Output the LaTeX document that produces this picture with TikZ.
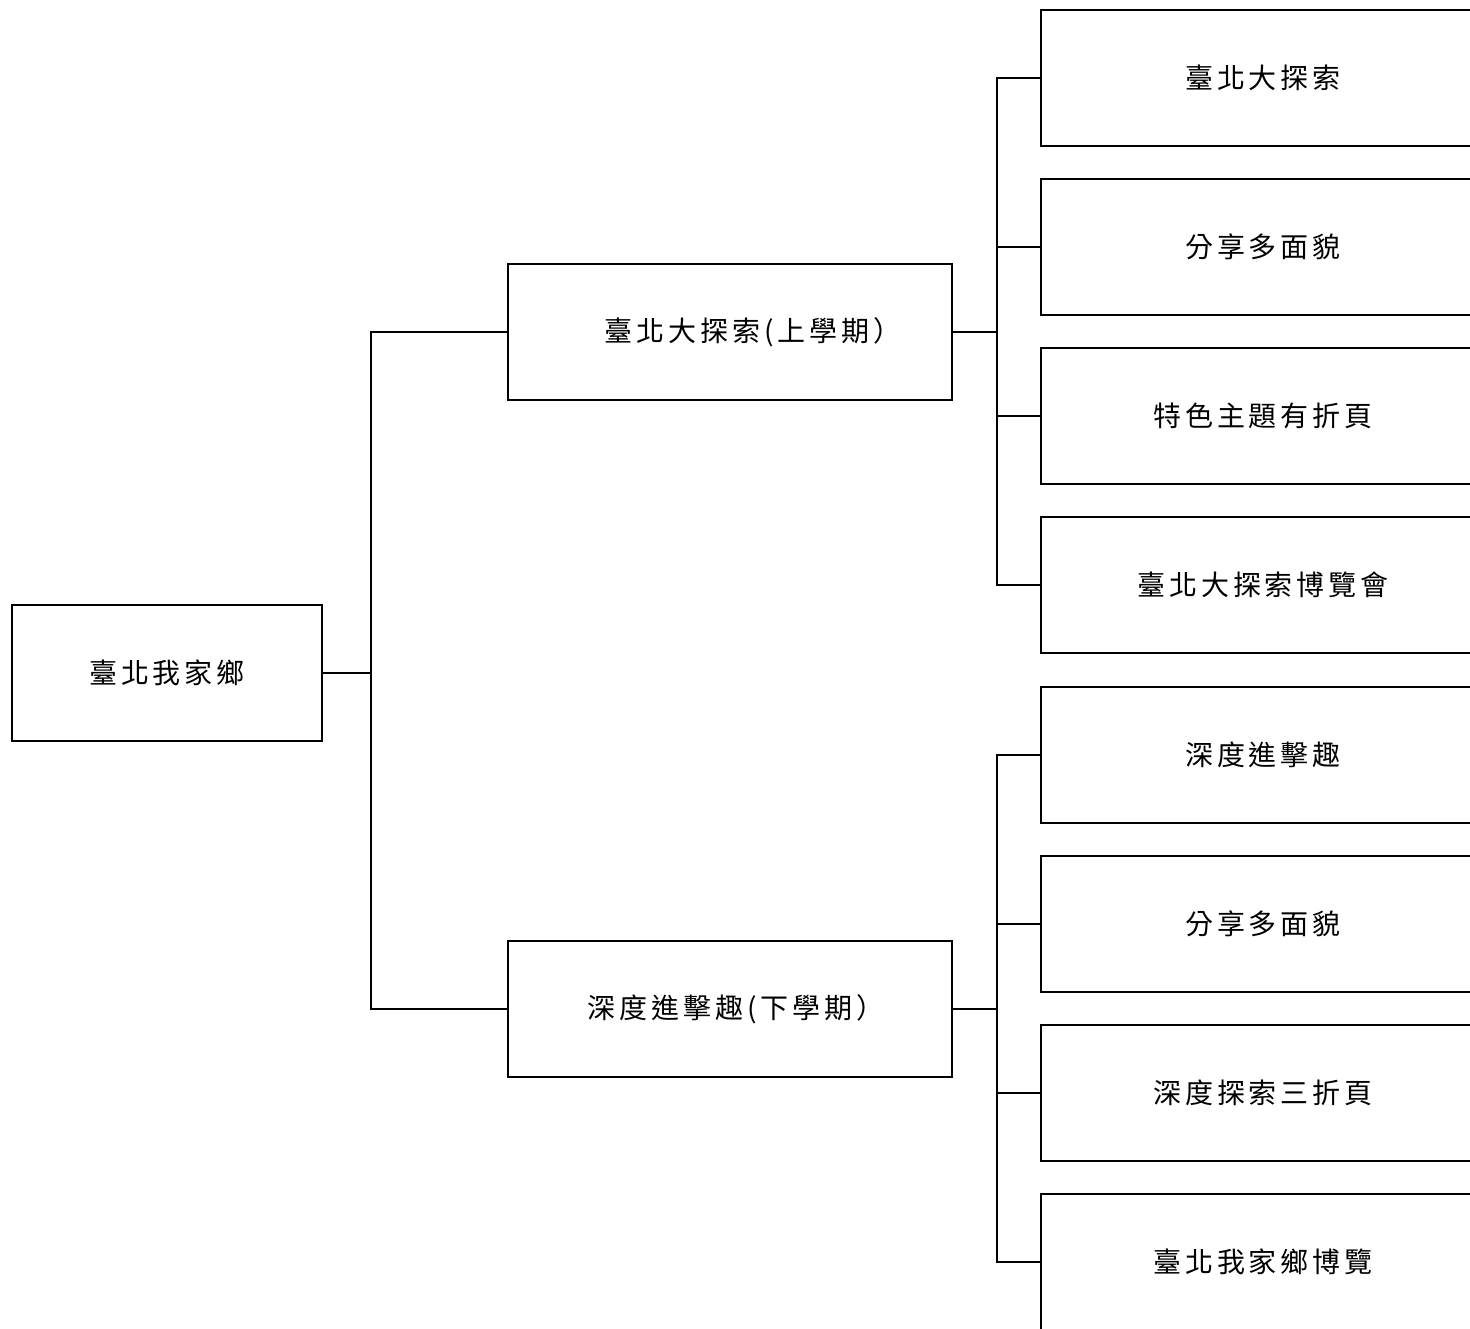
\documentclass[tikz,border=0pt]{standalone}
\usepackage{fontspec}
\newfontfamily\cjk[LetterSpace=14]{Noto Sans CJK TC}
\begin{document}
\begin{tikzpicture}[x=1pt,y=-1pt,line width=2.3pt,
    box/.style={draw,inner sep=0pt,minimum width=444pt,minimum height=136pt,font=\cjk\fontsize{28}{32}\selectfont},
    rootbox/.style={box,minimum width=310pt}]
        \useasboundingbox (0,0) rectangle (1470,1329);
        \clip (0,0) rectangle (1470,1329);

		\node[rootbox] (root) at (167,673) {臺北我家鄉};

		\node[box] (upper) at (730,332) {\hspace{46pt}臺北大探索(上學期）};
		\node[box] (lower) at (730,1009) {\hspace{12pt}深度進擊趣(下學期）\hspace{3pt}};

		% leaves, cut off at the right edge
		\foreach \n/\y/\txt in {1/78/臺北大探索, 2/247/分享多面貌, 3/416/特色主題有折頁, 4/585/臺北大探索博覽會}
			\node[box] (up\n) at (1263,\y) {\txt};
		\foreach \n/\y/\txt in {1/755/深度進擊趣, 2/924/分享多面貌, 3/1093/深度探索三折頁, 4/1262/臺北我家鄉博覽}
			\node[box] (down\n) at (1263,\y) {\txt};

		\coordinate (rootfork) at (371,673);
		\coordinate (upfork) at (997,332);
		\coordinate (downfork) at (997,1009);

		\draw (root.east) -- (rootfork);
		\draw (rootfork) |- (upper.west);
		\draw (rootfork) |- (lower.west);

		\draw (upper.east) -- (upfork);
		\draw (lower.east) -- (downfork);
		\foreach \n in {1,...,4} {
			\draw (upfork) |- (up\n.west);
			\draw (downfork) |- (down\n.west);
		}
    \end{tikzpicture}
\end{document}
